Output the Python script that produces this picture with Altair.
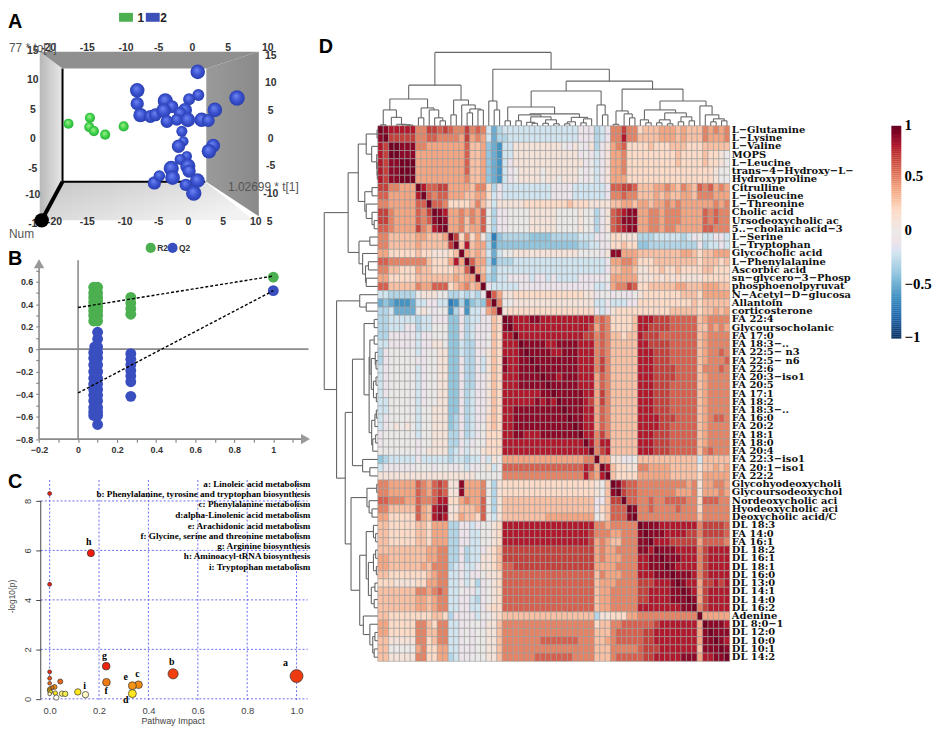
import altair as alt
import pandas as pd

SERIF = "Liberation Serif"
SANS = "Liberation Sans"

# ---------- Panel A: score plot (t[1], to[1]) ----------
green_t = [-24.2, -19.87, -20.0, -19.07, -16.8, -13.07]
green_o = [2.56, 3.56, 2.0, 1.33, 0.72, 2.11]
blue_t = [-1.0, -1.33, -2.0, -0.33, -1.67, -6.87, -5.87, -10.33, -10.33, 2.0, 0.13, 1.87, -4.67, -3.33,
          -9.67, -7.67, -6.67, -5.0, -0.67, -1.67, -4.33, -2.33, -0.13, 2.67, 4.0, 5.33, 9.8,
          5.0, 4.13, -0.13, -3.47, 0.13, -3.2, 1.8, -0.53, 1.07]
blue_o = [-0.39, 1.28, -1.22, -2.89, -3.44, -7.39, -6.22, 8.17, 5.94, 7.39, 6.67, 11.28, 6.39, 5.44,
          4.0, 3.78, 4.06, 4.78, 4.89, 4.33, 2.94, 3.22, 3.22, 3.22, 3.11, 4.89, 6.89,
          -1.11, -2.06, -4.56, -4.94, -5.39, -6.5, -7.0, -7.72, -9.11]
blue_s = [105, 125, 180, 110, 125, 180, 135, 215, 180, 145, 145, 215, 235, 170,
          210, 170, 170, 220, 195, 170, 170, 145, 220, 215, 170, 215, 245,
          195, 215, 235, 235, 180, 220, 220, 155, 240]
top_ticks_t = [-28.2, -20.4, -12.6, -6.0, 0.8, 8.0, 16.0]
top_ticks = ["-20", "-15", "-10", "-5", "0", "5", "10"]
bot_ticks_t = [-27.0, -20.4, -12.8, -6.0, 0.0, 7.0, 13.6, 16.4]
bot_ticks = ["-20", "-15", "-10", "-5", "0", "5", "10", "5"]
left_ticks_o = [14.83, 9.83, 4.83, 0.0, -5.0, -9.5, -14.3]
left_ticks = ["15", "10", "5", "0", "-5", "-10", "-1"]
right_ticks_o = [14.0, 9.33, 4.67, 0.0, -4.5, -9.17]
right_ticks = ["15", "10", "5", "0", "-5", "-10"]

# ---------- Panel B: permutation plot ----------
r2_x = [0.08, 0.1, 0.08, 0.1, 0.08, 0.1, 0.08, 0.1, 0.08, 0.1, 0.08, 0.1, 0.08, 0.1, 0.08, 0.1,
        0.27, 0.27, 0.27, 0.27, 1.0]
r2_y = [0.55, 0.55, 0.5, 0.5, 0.46, 0.46, 0.42, 0.42, 0.38, 0.38, 0.34, 0.34, 0.3, 0.3, 0.25, 0.25,
        0.46, 0.41, 0.36, 0.31, 0.64]
q2_x = [0.1, 0.1, 0.085, 0.1, 0.08, 0.1, 0.08, 0.1, 0.08, 0.1, 0.08, 0.1, 0.08, 0.1, 0.08, 0.1, 0.08, 0.1,
        0.08, 0.1, 0.08, 0.1, 0.08, 0.1, 0.08, 0.1, 0.08, 0.1, 0.1,
        0.27, 0.27, 0.27, 0.27, 0.27, 0.27, 0.27, 1.0]
q2_y = [0.15, 0.09, 0.02, 0.02, -0.03, -0.03, -0.08, -0.08, -0.14, -0.14, -0.2, -0.2, -0.26, -0.26,
        -0.31, -0.31, -0.36, -0.36, -0.41, -0.41, -0.46, -0.46, -0.52, -0.52, -0.56, -0.56, -0.59, -0.59, -0.67,
        -0.04, -0.09, -0.14, -0.19, -0.24, -0.29, -0.42, 0.52]
line_r2 = [0.37, 0.65]
line_q2 = [-0.39, 0.52]
b_y_ticks = [-0.8, -0.7, -0.6, -0.5, -0.4, -0.3, -0.2, -0.1, 0, 0.1, 0.2, 0.3, 0.4, 0.5, 0.6, 0.7]
b_x_ticks = [-0.2, -0.1, 0, 0.1, 0.2, 0.3, 0.4, 0.5, 0.6, 0.7, 0.8, 0.9, 1, 1.1]

# ---------- Panel C: pathway impact ----------
c_x = [1.0, 0.5, 0.36, 0.335, 0.335, 0.229, 0.23, 0.167, 0.145, 0.114, 0.0, 0.0, 0.0, 0.0, 0.0, 0.043, 0.02,
       0.01, 0.0, 0.0, 0.004, 0.023, 0.0, 0.05, 0.063, 0.027]
c_y = [0.92, 1.01, 0.57, 0.53, 0.21, 1.32, 0.67, 5.89, 0.17, 0.28, 8.3, 4.63, 1.09, 0.83, 0.63, 0.7, 0.48,
       0.45, 0.39, 0.32, 0.28, 0.23, 0.2, 0.21, 0.2, 0.05]
c_s = [170, 105, 60, 65, 65, 60, 60, 52, 42, 42, 16, 16, 16, 16, 14, 26, 24, 16, 20, 20, 16, 20, 14, 30, 30, 28]
c_f = ["#ee3a10", "#f2400e", "#f08a12", "#f59314", "#ffe61e", "#f0250f", "#f07a12", "#f51a0c", "#fff7c4",
       "#ffe81c", "#ee1c0e", "#ee1c0e", "#ee2a0e", "#f0500f", "#f06a10", "#e8661a", "#f09018", "#e87a10",
       "#e8a000", "#eab000", "#f5d820", "#ffe81c", "#fff2b0", "#fff070", "#f8ee50", "#fffdf0"]
c_labels = ["a", "b", "c", "e", "d", "g", "f", "h", "i"]
c_label_x = [0.955, 0.495, 0.356, 0.308, 0.308, 0.222, 0.229, 0.158, 0.142]
c_label_y = [1.455, 1.47, 1.0, 0.89, -0.05, 1.75, 0.33, 6.34, 0.53]
c_notes = ["a: Linoleic acid metabolism", "b: Phenylalanine, tyrosine and tryptophan biosynthesis",
           "c: Phenylalanine metabolism", "d:alpha-Linolenic acid metabolism", "e: Arachidonic acid metabolism",
           "f: Glycine, serine and threonine metabolism", "g: Arginine biosynthesis",
           "h: Aminoacyl-tRNA biosynthesis", "i: Tryptophan metabolism"]
c_note_y = [8.69, 8.28, 7.88, 7.44, 7.0, 6.6, 6.16, 5.76, 5.32]

# ---------- Panel D: correlation heat map ----------
labels = ["L−Glutamine", "L−Lysine", "L−Valine", "MOPS", "L−Leucine", "trans−4−Hydroxy−L−", "Hydroxyproline",
          "Citrulline", "L−isoleucine", "L−Threonine", "Cholic acid", "Ursodeoxycholic ac", "5..−cholanic acid−3",
          "L−Serine", "L−Tryptophan", "Glycocholic acid", "L−Phenylalanine", "Ascorbic acid", "sn−glycero−3−Phosp",
          "phosphoenolpyruvat", "N−Acetyl−D−glucosa", "Allantoin", "corticosterone", "FA 22:4", "Glycoursocholanic",
          "FA 17:0", "FA 18:3−..", "FA 22:5− n3", "FA 22:5− n6", "FA 22:6", "FA 20:3−iso1", "FA 20:5", "FA 17:1",
          "FA 18:2", "FA 18:3−..", "FA 16:0", "FA 20:2", "FA 18:1", "FA 18:0", "FA 20:4", "FA 22:3−iso1",
          "FA 20:1−iso1", "FA 22:2", "Glycohyodeoxycholi", "Glycoursodeoxychol", "Nordeoxycholic aci",
          "Hyodeoxycholic aci", "Deoxycholic acid/C", "DL 18:3", "FA 14:0", "FA 16:1", "DL 18:2", "DL 16:1", "DL 18:1",
          "DL 16:0", "DL 13:0", "DL 14:1", "DL 14:0", "DL 16:2", "Adenine", "DL 8:0−1", "DL 12:0", "DL 10:0",
          "DL 10:1", "DL 14:2"]

# one character per cell: D = 1, digits = tenths, a..g = -0.1..-0.7 (spaces only group the cells)
rows = [
    "D9 88888 557767 6557565 bec bbbbb bbbbb bbbba aa cba 55755 23334 44343 3 3 54545",
    "9D 77777 556655 5547454 bec cbbbb bbbbb bbbba aa cba 55855 33334 44343 3 3 54445",
    "87 DD999 554444 4446334 def bb111 11111 10a10 a1 ca1 45622 22322 23332 2 2 33333",
    "87 DD999 444444 4446334 def bb111 11111 1111a 0a ba1 44522 22222 22322 2 2 32210",
    "87 99DDD 444444 4446334 def ba111 11111 11111 a0 ba1 44522 22222 22322 2 2 32210",
    "87 99DDD 444444 4446334 def ba011 11011 11110 a0 ba1 44522 22222 22222 2 2 22100",
    "87 99DDD 444444 4445334 def ba011 11011 01110 a0 ba1 44422 22222 22222 2 2 22100",
    "77 55444 D86677 4444355 2ca bbbbb bbbba aaabb bb bba 66776 33344 54354 3 6 56454",
    "66 44444 8D6566 4443344 2ba bbbbb bbbba aaabb bb bba 55655 33343 43344 3 5 55444",
    "55 44444 66D665 2222353 1b1 11112 22222 22322 21 111 33443 44344 54544 4 4 44545",
    "77 54444 657D98 4454546 0ca a0000 11111 00001 00 ca1 67899 44554 55544 4 4 65655",
    "77 54444 6569D9 4453546 0ca a0000 11111 00001 00 ca1 67999 44554 55544 4 4 65655",
    "66 54444 75489D 4453446 0ca a0000 11111 00001 00 ca1 67899 44554 55444 4 4 66555",
    "55 33333 443334 D725241 cgd ccccc ddddc ccccb bb aa0 22111 cccbb bbbcb a 0 bbaab",
    "55 33333 433333 7D38344 cfd ddddd ddddd ddddc cb baa 22322 ddccc ccccc c a cbbab",
    "44 22222 322111 23D4343 beb 00111 11111 11110 00 0a1 99444 33333 33344 3 2 33444",
    "66 55555 553222 484D644 cfc ccbbb bbbbb bbbbb bb bba 44554 22233 33333 3 2 33323",
    "55 33222 433222 2336D43 bdb bbbbb bbbbb bbbbb bb bba 33443 11223 22322 2 2 33222",
    "44 22222 333333 34344D4 cdb baaaa baaba bbbba aa aa0 44444 11121 21211 1 1 22222",
    "66 33333 544666 234534D abb bbbaa aaaaa aaaaa aa bba 45576 22333 33443 3 3 44433",
    "bb ccccc 011100 ccbcbca D64 11222 22222 22222 11 a00 a0aa0 12222 22233 3 2 44444",
    "ed efffe bbaabb gfcfdcd 6D5 00111 11111 11111 11 bba bbbaa 22222 22222 3 2 33333",
    "cc beeee 010a00 fcafbba 45D 12222 22222 22222 22 aba 12222 22222 23333 3 2 33434",
    "cc bbbbb cbbaaa ddacbba a32 D9888 99888 88888 88 565 22223 88877 76666 6 3 45555",
    "cc bbbaa cbb000 ddacbaa a32 9D888 88888 88888 87 465 22223 88777 76666 6 3 35454",
    "cc aaaaa baa000 ddacbaa 032 88D88 88888 88888 77 565 33233 87776 66666 6 3 45555",
    "bb aaaaa baa110 ddbccaa 032 888D9 99988 99998 88 565 33333 88777 76666 6 3 45555",
    "ca 00000 ba0011 ddbccaa 132 8889D 99998 89998 88 565 33333 88877 76666 6 3 45565",
    "ca 00000 aa0011 ddaccab 132 98899 D9999 99998 88 575 33333 88877 76666 6 3 45556",
    "ba 00000 ba0011 ddaccab 132 98899 9D999 99998 88 575 33333 88877 77666 6 3 55565",
    "ba 00000 ba0011 ddaccaa 132 88899 99D99 89998 88 465 33333 88877 77666 6 3 45555",
    "ba 00000 ba0011 ddaccaa 132 88899 999D9 99998 88 465 33333 88877 76666 6 3 45555",
    "ba 00000 ba0011 ddacbaa 132 88888 8899D 99999 88 475 33333 88877 76666 6 3 45555",
    "bb 00000 ba0011 ddacbaa 132 88888 89898 D9999 87 475 33333 88877 76666 6 3 45555",
    "bb 00000 b00111 ddacbaa 132 88999 99999 9D999 88 465 33333 88877 76666 6 3 45555",
    "ba 00000 b00111 dcacbaa 232 88999 99999 99D99 88 465 33333 88887 77666 6 3 45665",
    "ba 01010 b00111 dcacba0 232 88999 99999 999D9 88 465 33333 88887 76666 6 3 45555",
    "a0 00000 b00111 ccacba0 222 88998 88999 9999D 88 575 33333 88877 76666 6 3 45555",
    "a0 00000 a00111 ccaba00 222 88888 88888 88888 D8 588 33333 88877 76666 6 3 45555",
    "00 00000 a01111 cbab001 222 88888 88888 88888 8D 578 33333 88877 76666 6 3 56555",
    "dc bbbbb abbbbb cbbcbba b10 44444 44444 44444 55 D44 11aa0 33333 33333 3 b 33333",
    "ba aaaaa 000a00 aa0baa0 1b0 66666 66666 66666 87 4D8 32211 55444 43333 3 1 33434",
    "11 11111 111111 1111100 000 55555 55555 55555 85 48D 32222 44444 43333 3 2 44444",
    "55 44444 654676 1194445 0c1 22222 22222 22222 22 103 D9766 55555 55554 5 1 44554",
    "55 44444 654676 1194445 0c1 22222 22222 22222 22 103 9D766 55555 55444 5 1 44454",
    "66 55544 655688 2245446 0c1 33333 33333 33333 33 aa3 77D66 55655 66665 5 2 66655",
    "55 33333 643899 1133346 0c1 33333 33333 33333 33 a23 666D9 55655 55655 5 2 55555",
    "44 22222 643898 1243326 0b1 33333 33344 44444 44 013 6669D 55555 55555 5 3 55555",
    "33 22222 332444 ccaaba0 012 88888 88888 88888 88 554 55555 D9998 88888 8 5 77776",
    "33 22222 332444 ccaabb0 012 88888 88888 88888 87 555 44555 9D999 88887 7 5 77776",
    "33 22222 332444 ccaabb0 012 88888 88888 88888 87 454 33555 99D88 87777 7 4 66665",
    "33 33333 334455 ccacbba 123 77777 77777 77777 77 454 45555 998D9 99888 8 5 78888",
    "44 33333 334455 ccacbb1 123 77777 77777 77777 77 454 44555 8899D 99988 8 5 78888",
    "44 33333 343555 cbabba1 123 66777 77777 77777 77 444 45555 88999 D9888 8 5 78888",
    "33 22222 223455 bbabaa0 112 66666 66666 66666 66 354 44555 88899 9D999 8 5 78888",
    "22 21111 224455 bbab0ca 012 66666 66666 66666 66 344 45555 77788 89D98 8 4 77878",
    "33 33333 554565 bb0aaba 012 66666 66666 66666 66 344 55555 77888 899D9 8 4 78888",
    "33 33333 443455 bbaabca 012 66666 66666 66666 66 344 55555 77888 8999D 9 4 78888",
    "33 33333 443455 bbaabba 122 66666 66666 66666 66 344 55555 88888 88899 D 5 78888",
    "33 22222 222332 caaaab0 012 33333 33333 33333 33 c11 22244 55555 55555 5 D 44444",
    "44 22222 553255 bbaa00a 113 55555 55555 55555 55 233 55666 66678 88888 8 4 D9998",
    "44 22222 553355 bba0a00 113 55555 55555 55555 55 333 56666 67788 88888 8 4 9D999",
    "33 11111 552355 bba0a00 113 55555 55666 66665 55 334 56666 67788 88888 8 4 99D98",
    "33 00000 452244 bbaaa00 113 55555 55555 55555 55 333 55555 67778 88888 8 3 999D9",
    "33 11111 552244 cbaa000 113 55555 56666 66655 55 333 56666 67788 88899 9 4 8899D",
]
level = {"D": 0.97, "a": -0.1, "b": -0.2, "c": -0.3, "d": -0.4, "e": -0.5, "f": -0.6, "g": -0.7}

# dendrogram shared by rows and columns: (height in px, left branch, right branch); ints are leaves
tree = (74,
        (41,
         (27, (16, (1, 0, 1), (8.5, 2, (1.5, 3, (1, 4, (0.7, 5, 6))))),
          (18, (8, 7, 8), (16, 9, (8, 10, (5, 11, 12))))),
         (26, (11, 13, 14), (21, 15, (17, (13, 16, 17), (16, 18, 19))))),
        (57,
         (25, 20, (16, 21, 22)),
         (45,
          (35,
           (19, (5, 23, 24),
            (12,
             (11, (5, 25, 26), (9, (3.5, 27, (2.5, 28, 29)), (6, (2.5, 30, 31), (2, 32, 33)))),
             (8.5, (4, (2, 34, 35), 36), (7, (3, 37, 38), 39)))),
           (21, 40, (11, 41, 42))),
          (37,
           (15, (1.5, 43, 44), (12, 45, (8, 46, 47))),
           (25,
            (16, (6, 48, (3, 49, 50)), (13, (6, (3, 51, 52), (2, 53, 54)), (9, (4, 55, 56), (5, 57, 58)))),
            (20, 59, (11, 60, (7, (4, 61, 62), (5, 63, 64)))))))))

rdbu_stops = [-1, -0.8, -0.6, -0.4, -0.2, 0, 0.2, 0.4, 0.6, 0.8, 1]
rdbu_colors = ["#053061", "#2166ac", "#4393c3", "#92c5de", "#d1e5f0", "#ebe9e8",
               "#fddbc7", "#f4a582", "#d6604d", "#b2182b", "#67001f"]
bar_labels = ["1", "0.5", "0", "−0.5", "−1"]
bar_label_row = [-0.08, 6.05, 12.6, 19.2, 25.6]


def pts(**kw):
    return pd.DataFrame(kw)


# ======================= A =======================
ax = alt.X("x:Q", scale=alt.Scale(domain=[-36.4, 24.8]), axis=None)
ay = alt.Y("y:Q", scale=alt.Scale(domain=[-17.33, 21.33]), axis=None)
ax2 = alt.X2("x2")
ay2 = alt.Y2("y2")


def grad(c1, c2, x1, y1, x2, y2):
    return alt.LinearGradient(gradient="linear", x1=x1, y1=y1, x2=x2, y2=y2,
                              stops=[alt.GradientStop(color=c1, offset=0), alt.GradientStop(color=c2, offset=1)])


def sphere(light, mid, dark):
    return alt.RadialGradient(gradient="radial", x1=0.42, y1=0.35, r1=0, x2=0.5, y2=0.5, r2=0.55,
                              stops=[alt.GradientStop(color=light, offset=0),
                                     alt.GradientStop(color=mid, offset=0.55),
                                     alt.GradientStop(color=dark, offset=1)])


left_face = alt.Chart(pts(x=[-30, -25.4], y=[14.67, 11.83], y2=[-13.67, -7.17])).mark_area(
    color=grad("#b8b8b8", "#e8e8e8", 0, 0, 1, 0)).encode(x=ax, y=ay, y2=ay2)
right_face = alt.Chart(pts(x=[3.6, 14.2], y=[11.83, 14.67], y2=[-7.17, -13])).mark_area(
    color=grad("#9a9a9a", "#8a8a8a", 0, 0, 1, 0)).encode(x=ax, y=ay, y2=ay2)
top_face = alt.Chart(pts(y=[14.67, 11.83], x=[-30, -25.4], x2=[14.2, 3.6])).mark_area(
    orient="horizontal", color="#8f8f8f").encode(y=ay, x=ax, x2=ax2)
floor = alt.Chart(pts(y=[-7.17, -13.67], x=[-25.4, -29.6], x2=[3.4, 13.2])).mark_area(
    orient="horizontal", color=grad("#c6c6c6", "#f2f2f2", 0, 0, 1, 0.6)).encode(y=ay, x=ax, x2=ax2)
back_lines = alt.Chart(pts(x=[-25.4, -25.4], y=[11.83, -7.17], x2=[-25.4, 3.4], y2=[-7.17, -7.17])).mark_rule(
    color="black", strokeWidth=2).encode(x=ax, y=ay, x2=ax2, y2=ay2)
front_axis = alt.Chart(pts(x=[-25.4], y=[-7.17], x2=[-29.6], y2=[-13.67])).mark_rule(
    color="black", strokeWidth=4).encode(x=ax, y=ay, x2=ax2, y2=ay2)
ball = alt.Chart(pts(x=[-29.6], y=[-13.67])).mark_circle(color="black", size=210, opacity=1).encode(x=ax, y=ay)
ticks_df = pd.concat([
    pts(x=top_ticks_t, y=[15.33] * len(top_ticks), t=top_ticks),
    pts(x=bot_ticks_t, y=[-14.0] * len(bot_ticks), t=bot_ticks),
    pts(x=[-31.4] * len(left_ticks), y=left_ticks_o, t=left_ticks),
    pts(x=[16.6] * len(right_ticks), y=right_ticks_o, t=right_ticks),
])
a_ticks = alt.Chart(ticks_df).mark_text(font=SANS, fontSize=10.5, fontWeight="bold", color="#333").encode(
    x=ax, y=ay, text="t:N")
a_names = alt.Chart(pts(x=[-36.2, 8.0, -36.2], y=[15.33, -8.0, -16.0], t=["77 * to[1]", "1.02699 * t[1]", "Num"])).mark_text(
    font=SANS, fontSize=12, align="left", color="#555").encode(x=ax, y=ay, text="t:N")
green = alt.Chart(pts(x=green_t, y=green_o)).mark_circle(color=sphere("#a8f090", "#3fd44a", "#27a838"), size=105, opacity=1).encode(x=ax, y=ay)
blue = alt.Chart(pts(x=blue_t, y=blue_o, s=blue_s)).mark_circle(color=sphere("#6f86f2", "#3a52d0", "#263aa8"), opacity=1).encode(
    x=ax, y=ay, size=alt.Size("s:Q", scale=None, legend=None))
a_key = alt.Chart(pts(x=[-14.0, -8.6], x2=[-11.2, -5.8], y=[21.2, 21.2], y2=[19.7, 19.7], c=["#4caf50", "#3d50b8"])).mark_rect().encode(
    x=ax, x2=ax2, y=ay, y2=ay2, color=alt.Color("c:N", scale=None, legend=None))
a_key_t = alt.Chart(pts(x=[-9.6, -5.0], y=[20.3, 20.3], t=["1", "2"])).mark_text(
    font=SANS, fontSize=12, fontWeight="bold", color="#222").encode(x=ax, y=ay, text="t:N")
a_letter = alt.Chart(pts(x=[-36.4], y=[19.6], t=["A"])).mark_text(
    font=SANS, fontSize=20, fontWeight="bold", color="black", align="left").encode(x=ax, y=ay, text="t:N")
panel_a = alt.layer(left_face, right_face, top_face, floor, back_lines, a_ticks,
                    green, blue, front_axis, ball, a_names, a_key, a_key_t, a_letter).properties(width=306, height=232)

# ======================= B =======================
lab_expr_y = "datum.value==0?'0':(abs(round(datum.value*10))%2==0?format(datum.value,'.1f'):'')"
lab_expr_x = "datum.value==0?'0':(datum.value==1?'1':(abs(round(datum.value*10))%2==0&&datum.value<1?format(datum.value,'.1f'):''))"
bx_scale = alt.Scale(domain=[-0.359, 1.195])
by_scale = alt.Scale(domain=[-1.076, 0.952])
bx = alt.X("x:Q", scale=bx_scale, title=None, axis=alt.Axis(
    values=b_x_ticks, labelExpr=lab_expr_x, domain=False, grid=False, offset=-31, orient="bottom", tickColor="#8a8a8a",
    tickSize=3, tickWidth=1.2, labelFont=SANS, labelFontSize=9, labelFontWeight="bold", labelColor="#333", labelPadding=3))
by = alt.Y("y:Q", scale=by_scale, title=None, axis=alt.Axis(
    values=b_y_ticks, labelExpr=lab_expr_y, domain=False, grid=False, offset=-31, orient="left", tickColor="#8a8a8a",
    tickSize=3, tickWidth=1.2, labelFont=SANS, labelFontSize=9, labelFontWeight="bold", labelColor="#333", labelPadding=3))
b_rules = alt.Chart(pts(x=[-0.2, -0.2, -0.2, 0], x2=[1.165, -0.2, 1.18, 0], y=[-0.8, -0.8, 0, -0.8], y2=[-0.8, 0.76, 0, 0.79])).mark_rule(
    color="#8a8a8a", strokeWidth=1.6).encode(x=bx, y=by, x2=ax2, y2=ay2)
b_arrow1 = alt.Chart(pts(x=[-0.2], y=[0.76])).mark_point(shape="triangle-up", filled=True, color="#999", size=110, opacity=1).encode(x=bx, y=by)
b_arrow2 = alt.Chart(pts(x=[1.165], y=[-0.8])).mark_point(shape="triangle-right", filled=True, color="#999", size=110, opacity=1).encode(x=bx, y=by)
b_r2 = alt.Chart(pts(x=r2_x, y=r2_y)).mark_circle(color="#4caf50", size=120, opacity=1).encode(x=bx, y=by)
b_q2 = alt.Chart(pts(x=q2_x, y=q2_y)).mark_circle(color="#3a4fbf", size=120, opacity=1).encode(x=bx, y=by)
b_line1 = alt.Chart(pts(x=[0, 1], y=line_r2)).mark_line(color="black", strokeWidth=1.4, strokeDash=[3, 2]).encode(x=bx, y=by)
b_line2 = alt.Chart(pts(x=[0, 1], y=line_q2)).mark_line(color="black", strokeWidth=1.4, strokeDash=[3, 2]).encode(x=bx, y=by)
b_key = alt.Chart(pts(x=[0.372, 0.484], y=[0.9, 0.9], c=["#4caf50", "#3a4fbf"])).mark_circle(size=105, opacity=1).encode(
    x=bx, y=by, color=alt.Color("c:N", scale=None, legend=None))
b_key_t = alt.Chart(pts(x=[0.405, 0.517], y=[0.9, 0.9], t=["R2", "Q2"])).mark_text(
    font=SANS, fontSize=8.5, fontWeight="bold", color="#333", align="left").encode(x=bx, y=by, text="t:N")
b_letter = alt.Chart(pts(x=[-0.359], y=[0.8], t=["B"])).mark_text(
    font=SANS, fontSize=20, fontWeight="bold", color="black", align="left").encode(x=bx, y=by, text="t:N")
panel_b = alt.layer(b_rules, b_arrow1, b_arrow2, b_r2, b_q2, b_line1, b_line2, b_key, b_key_t, b_letter).properties(width=306, height=230)

# ======================= C =======================
cx_scale = alt.Scale(domain=[-0.1687, 1.06])
cy_scale = alt.Scale(domain=[-1.335, 9.246])
cx = alt.X("x:Q", scale=cx_scale, title="Pathway Impact", axis=alt.Axis(
    values=[0, 0.2, 0.4, 0.6, 0.8, 1.0], format=".1f", domain=False, grid=False, offset=-30, orient="bottom", tickSize=0,
    labelFont=SANS, labelFontSize=9.5, labelColor="#444", labelPadding=3, titleFont=SANS, titleFontSize=9,
    titleFontWeight="normal", titleColor="#444", titleX=166, titleY=15))
cy = alt.Y("y:Q", scale=cy_scale, title="-log10(p)", axis=alt.Axis(
    values=[0, 2, 4, 6, 8], domain=False, grid=False, offset=-33, orient="left", tickSize=5, tickColor="#444",
    labelFont=SANS, labelFontSize=9.5, labelColor="#444", labelAngle=270, labelAlign="center", labelBaseline="bottom", labelPadding=3,
    titleFont=SANS, titleFontSize=8.5, titleFontWeight="normal", titleColor="#444", titleX=-24, titleY=127))
c_vgrid = alt.Chart(pts(x=[0, 0.2, 0.4, 0.6, 0.8, 1.0], y=[-0.05] * 6, y2=[8.85] * 6)).mark_rule(
    color="#6a6af0", strokeWidth=1, strokeDash=[2, 2]).encode(x=cx, y=cy, y2=ay2)
c_hgrid = alt.Chart(pts(y=[0, 2, 4, 6, 8], x=[-0.036] * 5, x2=[1.045] * 5)).mark_rule(
    color="#6a6af0", strokeWidth=1, strokeDash=[2, 2]).encode(y=cy, x=cx, x2=ax2)
c_axis_line = alt.Chart(pts(x=[-0.036], y=[0], y2=[8])).mark_rule(color="#444", strokeWidth=1).encode(x=cx, y=cy, y2=ay2)
c_pts = alt.Chart(pts(x=c_x, y=c_y, s=c_s, f=c_f)).mark_point(filled=True, stroke="#333", strokeWidth=0.7, opacity=1, shape="circle").encode(
    x=cx, y=cy, size=alt.Size("s:Q", scale=None, legend=None), fill=alt.Fill("f:N", scale=None, legend=None))
c_lab = alt.Chart(pts(x=c_label_x, y=c_label_y, t=c_labels)).mark_text(
    font=SERIF, fontSize=10, fontWeight="bold", color="black").encode(x=cx, y=cy, text="t:N")
c_note = alt.Chart(pts(x=[1.056] * 9, y=c_note_y, t=c_notes)).mark_text(
    font=SERIF, fontSize=9.2, fontWeight="bold", color="black", align="right").encode(x=cx, y=cy, text="t:N")
c_letter = alt.Chart(pts(x=[-0.1687], y=[8.75], t=["C"])).mark_text(
    font=SANS, fontSize=20, fontWeight="bold", color="black", align="left").encode(x=cx, y=cy, text="t:N")
panel_c = alt.layer(c_vgrid, c_hgrid, c_axis_line, c_pts, c_lab, c_note, c_letter).properties(width=306, height=264)

# ======================= D =======================
recs = []
for r, row in enumerate(rows):
    cells = row.replace(" ", "")
    assert len(cells) == 65, (r, len(cells))
    for c, ch in enumerate(cells):
        v = level[ch] if ch in level else int(ch) / 10
        recs.append({"x": c, "x2": c + 1, "y": r, "y2": r + 1, "v": v})
heat_df = pd.DataFrame(recs)


def walk(node, out):
    if isinstance(node, int):
        return node + 0.5, 0
    h, a, b = node
    c1, h1 = walk(a, out)
    c2, h2 = walk(b, out)
    out.append((c1, c2, h, h))
    out.append((c1, c1, h1, h))
    out.append((c2, c2, h2, h))
    return (c1 + c2) / 2, h


segs = []
walk(tree, segs)
col_df = pd.DataFrame([{"x": a, "x2": b, "y": -h1 / 8.31, "y2": -h2 / 8.31} for a, b, h1, h2 in segs])
row_df = pd.DataFrame([{"y": a, "y2": b, "x": -h1 * 0.73 / 5.46, "x2": -h2 * 0.73 / 5.46} for a, b, h1, h2 in segs])

dx = alt.X("x:Q", scale=alt.Scale(domain=[-11.54, 102.01]), axis=None)
dy = alt.Y("y:Q", scale=alt.Scale(domain=[-13.8, 73.56], reverse=True), axis=None)
d_color = alt.Color("v:Q", scale=alt.Scale(domain=rdbu_stops, range=rdbu_colors, clamp=True), legend=None)
heat = alt.Chart(heat_df).mark_rect(stroke="#9c9c9c", strokeWidth=0.6).encode(x=dx, x2=ax2, y=dy, y2=ay2, color=d_color)
# colour bar, drawn through the same colour scale
bar_n = 107
bar_df = pd.DataFrame([{"x": 94.87, "x2": 96.7, "y": 25.8 * i / bar_n, "y2": 25.8 * (i + 1) / bar_n + 0.03,
                        "v": 1 - 2 * (i + 0.5) / bar_n} for i in range(bar_n)])
bar = alt.Chart(bar_df).mark_rect().encode(x=dx, x2=ax2, y=dy, y2=ay2, color=d_color)
bar_text = alt.Chart(pts(x=[97.3] * 5, y=bar_label_row, t=bar_labels)).mark_text(
    font=SERIF, fontSize=15, fontWeight="bold", color="black", align="left", baseline="middle").encode(x=dx, y=dy, text="t:N")
dendro_top = alt.Chart(col_df).mark_rule(color="#666", strokeWidth=1.1).encode(x=dx, x2=ax2, y=dy, y2=ay2)
dendro_left = alt.Chart(row_df).mark_rule(color="#666", strokeWidth=1.1).encode(x=dx, x2=ax2, y=dy, y2=ay2)
row_text = alt.Chart(pd.DataFrame({"x": [65.4] * 65, "y": [i + 0.5 for i in range(65)], "t": labels})).mark_text(
    font="DejaVu Serif", fontSize=10, fontWeight="bold", color="#111", align="left", baseline="middle").encode(x=dx, y=dy, text="t:N")
d_letter = alt.Chart(pts(x=[-10.9], y=[-9.6], t=["D"])).mark_text(
    font=SANS, fontSize=20, fontWeight="bold", color="black", align="left").encode(x=dx, y=dy, text="t:N")
panel_d = alt.layer(heat, bar, bar_text, dendro_top, dendro_left, row_text, d_letter).properties(width=620, height=726)

left_col = alt.vconcat(panel_a, panel_b, panel_c, spacing=0, bounds="flush")
# a flush nested column counts as zero wide in its parent, so the spacing carries the column width
chart = alt.hconcat(left_col, panel_d, spacing=310, bounds="flush",
                    padding={"left": 0, "top": 1, "right": 1, "bottom": -7}).configure_view(stroke=None)
chart.save("out.html", embed_options={"renderer": "svg", "actions": False})
